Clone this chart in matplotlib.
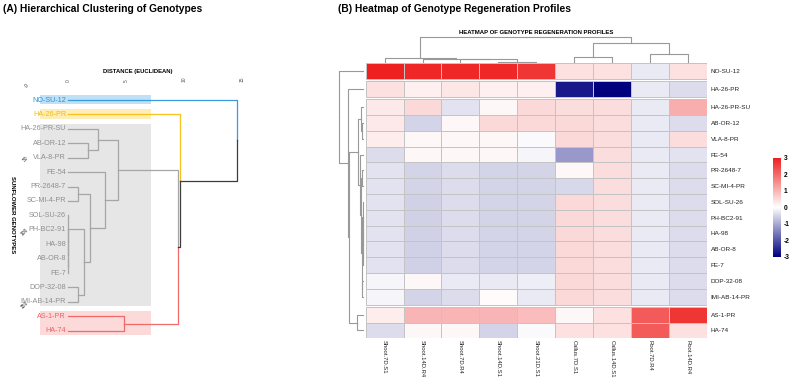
import numpy as np
import matplotlib.pyplot as plt
from matplotlib.colors import LinearSegmentedColormap
from matplotlib.patches import Rectangle

plt.rcParams['font.family'] = ['Liberation Sans', 'DejaVu Sans']
plt.rcParams['axes.unicode_minus'] = False

# genotypes in dendrogram / heatmap order
genotypes = ["NO-SU-12", "HA-26-PR", "HA-26-PR-SU", "AB-OR-12", "VLA-8-PR", "FE-54",
             "PR-2648-7", "SC-MI-4-PR", "SOL-SU-26", "PH-BC2-91", "HA-98", "AB-OR-8",
             "FE-7", "DOP-32-08", "IMI-AB-14-PR", "AS-1-PR", "HA-74"]
# cut of the tree into 4 groups
cluster = [0, 1, 2, 2, 2, 2, 2, 2, 2, 2, 2, 2, 2, 2, 2, 3, 3]

conditions = ["Shoot.7D.S1", "Shoot.14D.R4", "Shoot.7D.R4", "Shoot.14D.S1", "Shoot.21D.S1",
              "Callus.7D.S1", "Callus.14D.S1", "Root.7D.R4", "Root.14D.R4"]

# scaled regeneration values (rows = genotypes, cols = conditions)
values = np.array([
    [3.0, 2.9, 2.9, 2.9, 2.7, 0.4, 0.4, -0.25, 0.4],
    [0.4, 0.2, 0.35, 0.2, 0.2, -2.7, -3.0, -0.25, -0.4],
    [0.3, 0.5, -0.35, 0.1, 0.5, 0.45, 0.45, -0.25, 1.1],
    [0.3, -0.5, 0.1, 0.5, 0.5, 0.5, 0.45, -0.25, -0.4],
    [0.25, 0.1, 0.1, 0.1, -0.05, 0.5, 0.45, -0.25, 0.45],
    [-0.4, 0.1, 0.1, 0.1, -0.1, -1.2, 0.45, -0.25, -0.35],
    [-0.35, -0.5, -0.4, -0.5, -0.5, 0.1, 0.45, -0.25, -0.4],
    [-0.35, -0.5, -0.4, -0.5, -0.5, -0.45, 0.45, -0.25, -0.4],
    [-0.35, -0.55, -0.4, -0.5, -0.5, 0.5, 0.45, -0.25, -0.4],
    [-0.35, -0.55, -0.4, -0.5, -0.5, 0.5, 0.45, -0.25, -0.4],
    [-0.35, -0.55, -0.4, -0.5, -0.5, 0.5, 0.45, -0.25, -0.4],
    [-0.35, -0.55, -0.4, -0.5, -0.5, 0.5, 0.45, -0.25, -0.4],
    [-0.35, -0.55, -0.4, -0.5, -0.5, 0.5, 0.45, -0.25, -0.4],
    [-0.1, 0.1, -0.25, -0.25, -0.2, 0.5, 0.45, -0.25, -0.4],
    [-0.1, -0.5, -0.4, 0.05, -0.25, 0.5, 0.45, -0.25, -0.4],
    [0.25, 1.0, 1.0, 1.0, 0.9, 0.1, 0.4, 2.2, 2.7],
    [-0.4, 0.1, 0.1, -0.5, -0.05, 0.4, 0.4, 2.2, 0.4],
])

# tree topology: leaf names or index of an earlier merge
row_merges = [
    ("AB-OR-12", "VLA-8-PR"),
    ("HA-26-PR-SU", 0),
    ("PR-2648-7", "SC-MI-4-PR"),
    ("AB-OR-8", "FE-7"),
    ("HA-98", 3),
    ("PH-BC2-91", 4),
    ("SOL-SU-26", 5),
    ("DOP-32-08", "IMI-AB-14-PR"),
    (6, 7),
    (2, 8),
    ("FE-54", 9),
    (1, 10),
    ("AS-1-PR", "HA-74"),
    (11, 12),
    ("HA-26-PR", 13),
    ("NO-SU-12", 14),
]
left_heights = [1.72, 2.59, 0.86, 0.02, 0.02, 0.02, 0.02, 0.86, 1.38, 1.9, 3.19, 4.31, 4.83, 9.48, 9.66, 14.6]
row_heights = [1.4, 2.2, 0.8, 0.1, 0.15, 0.2, 0.25, 0.7, 1.1, 1.7, 2.6, 4.7, 6.3, 14.2, 14.6, 23.7]

col_merges = [
    ("Shoot.14D.S1", "Shoot.21D.S1"),
    ("Shoot.7D.R4", 0),
    ("Shoot.14D.R4", 1),
    ("Shoot.7D.S1", 2),
    ("Callus.7D.S1", "Callus.14D.S1"),
    ("Root.7D.R4", "Root.14D.R4"),
    (4, 5),
    (3, 6),
]
col_heights = [1.6, 4.0, 4.3, 5.6, 6.0, 9.3, 20.0, 26.0]

group_line = ["#3a9ae0", "#f5c21e", "#a6a6a6", "#f06a6a"]
group_text = ["#2c8fd8", "#f2bb14", "#8f8f8f", "#f06060"]
group_box = ["#bfe0f5", "#ffedb8", "#e6e6e6", "#fddada"]


def tree_segments(leaf_pos, merges, heights):
    pos, hgt, members = {}, {}, {}
    out = []
    for k, ((a, b), h) in enumerate(zip(merges, heights)):
        legs = []
        for c in (a, b):
            if isinstance(c, str):
                legs.append((leaf_pos[c], 0.0, [c]))
            else:
                legs.append((pos[c], hgt[c], members[c]))
        mid = (legs[0][0] + legs[1][0]) / 2
        pos[k], hgt[k], members[k] = mid, h, legs[0][2] + legs[1][2]
        out.append((mid, h, legs))
    return out


W, H = 794, 387
fig = plt.figure(figsize=(W / 100, H / 100), dpi=100)

# ---------------- (A) dendrogram ----------------
ax1 = fig.add_axes([32 / W, 0, 238 / W, 303 / H])
ax1.set_xlim(-3.10, 17.41)
ax1.set_ylim(19.9, -1.11)
for s in ax1.spines.values():
    s.set_visible(False)

leaf_y = {g: i for i, g in enumerate(genotypes)}
grp = {g: c for g, c in zip(genotypes, cluster)}

for c in range(4):
    idx = [i for i, k in enumerate(cluster) if k == c]
    ax1.add_patch(Rectangle((-2.41, idx[0] - 0.35), 9.57, idx[-1] - idx[0] + 0.65,
                            facecolor=group_box[c], edgecolor='none', zorder=0))

for mid, h, legs in tree_segments(leaf_y, row_merges, left_heights):
    for p, hc, mem in legs:
        gs = {grp[m] for m in mem}
        col = group_line[gs.pop()] if len(gs) == 1 else "#3c3c3c"
        ax1.plot([hc, h, h], [p, p, mid], color=col, lw=0.9, zorder=2)

for g, i in leaf_y.items():
    ax1.text(-0.17, i, g, ha='right', va='center', fontsize=5.2,
             color=group_text[grp[g]], zorder=3)

ax1.xaxis.tick_top()
ax1.set_xticks([0, 5, 10, 15], ["0", "5", "10", "15"])
ax1.tick_params(axis='x', length=0, pad=1.5, labelsize=3.5, labelcolor="#555555", labelrotation=90)
ax1.set_yticks([-1, 4, 9, 14], ["0", "50", "100", "150"])
ax1.tick_params(axis='y', length=0, pad=2, labelsize=3.5, labelcolor="#222222", labelrotation=45)

fig.text(3 / W, 1 - 9 / H, "(A) Hierarchical Clustering of Genotypes", fontsize=7.4,
         fontweight='bold', ha='left', va='center')
fig.text(138 / W, 1 - 72 / H, "DISTANCE (EUCLIDEAN)", fontsize=4.2, fontweight='bold',
         ha='center', va='center')
fig.text(12 / W, 1 - 215 / H, "SUNFLOWER GENOTYPES", fontsize=4.3, fontweight='bold',
         ha='center', va='center', rotation=270)

# ---------------- (B) heatmap ----------------
cmap = LinearSegmentedColormap.from_list("nwr", ["#00007f", "#ffffff", "#ee2020"])
gap = 0.14
row_top = np.arange(len(genotypes)) + gap * np.array(cluster)
row_mid = row_top + 0.5
n_rows_span = row_top[-1] + 1

axh = fig.add_axes([365.7 / W, 1 - 338.3 / H, 341 / W, 275 / H])
for c in range(4):
    idx = np.where(np.array(cluster) == c)[0]
    yed = np.append(row_top[idx], row_top[idx[-1]] + 1)
    mesh = axh.pcolormesh(np.arange(len(conditions) + 1), yed, values[idx], cmap=cmap,
                          vmin=-3, vmax=3, edgecolors="#c4c4c4", linewidth=0.6)
axh.set_xlim(0, len(conditions))
axh.set_ylim(n_rows_span, 0)
for s in axh.spines.values():
    s.set_visible(False)
axh.yaxis.tick_right()
axh.set_yticks(row_mid, genotypes)
axh.tick_params(axis='y', length=0, pad=3, labelsize=4.6, labelcolor="#222222")
axh.set_xticks(np.arange(len(conditions)) + 0.5, conditions)
axh.tick_params(axis='x', length=0, pad=1.5, labelsize=4.2, labelcolor="#222222", labelrotation=270)

# column dendrogram
axc = fig.add_axes([365.7 / W, 1 - 63.3 / H, 341 / W, 33.3 / H])
axc.set_xlim(0, len(conditions))
axc.set_ylim(0, 33.3)
axc.axis('off')
col_x = {c: j + 0.5 for j, c in enumerate(conditions)}
for mid, h, legs in tree_segments(col_x, col_merges, col_heights):
    for p, hc, mem in legs:
        axc.plot([p, p, mid], [hc, h, h], color="#999999", lw=0.8)

# row dendrogram
axr = fig.add_axes([330 / W, 1 - 338.3 / H, 35.7 / W, 275 / H])
axr.set_xlim(33, -2.7)
axr.set_ylim(n_rows_span, 0)
axr.axis('off')
row_y = {g: m for g, m in zip(genotypes, row_mid)}
for mid, h, legs in tree_segments(row_y, row_merges, row_heights):
    for p, hc, mem in legs:
        axr.plot([hc, h, h], [p, p, mid], color="#999999", lw=0.8)

fig.text(338 / W, 1 - 9 / H, "(B) Heatmap of Genotype Regeneration Profiles", fontsize=7.4,
         fontweight='bold', ha='left', va='center')
fig.text(536 / W, 1 - 32.7 / H, "HEATMAP OF GENOTYPE REGENERATION PROFILES", fontsize=4.3,
         fontweight='bold', ha='center', va='center')

# colour bar
cax = fig.add_axes([773 / W, 1 - 256.7 / H, 7.7 / W, 98.7 / H])
cb = fig.colorbar(mesh, cax=cax, ticks=[-3, -2, -1, 0, 1, 2, 3])
cb.outline.set_visible(False)
cax.tick_params(length=0, pad=2, labelsize=4.8)
for t in cax.get_yticklabels():
    t.set_fontweight('bold')

fig.savefig("out.png", dpi=100)
